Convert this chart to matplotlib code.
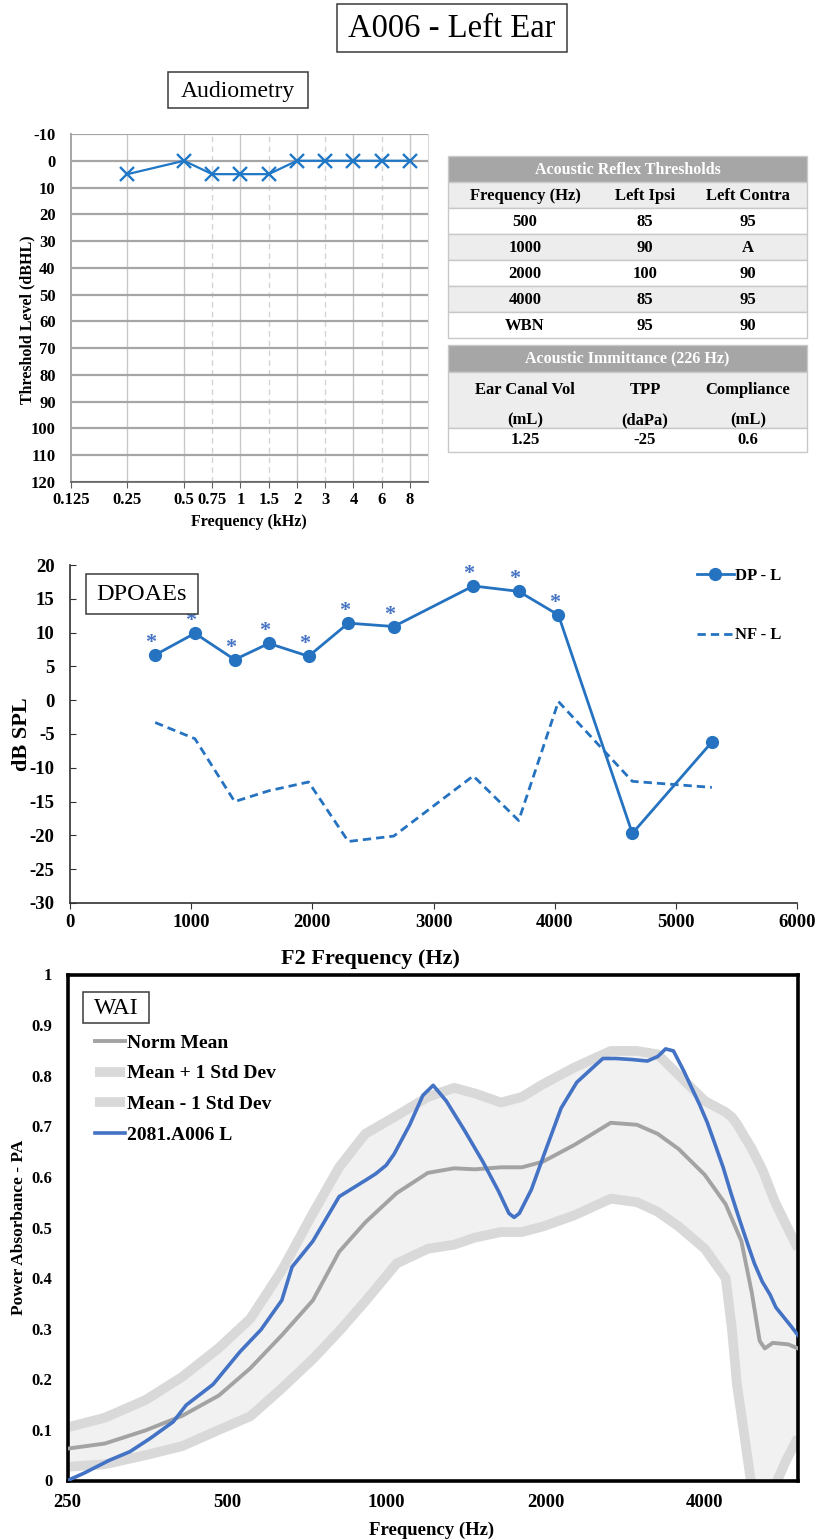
import numpy as np
import matplotlib
matplotlib.use("Agg")
import matplotlib.pyplot as plt
from matplotlib.patches import Rectangle

plt.rcParams['font.family'] = ['Liberation Serif', 'DejaVu Serif']
plt.rcParams['axes.unicode_minus'] = False

# ---------------- data ----------------
title_text = "A006 - Left Ear"

aud_freq_khz = [0.25, 0.5, 0.75, 1, 1.5, 2, 3, 4, 6, 8]
aud_threshold = [5, 0, 5, 5, 5, 0, 0, 0, 0, 0]
aud_tick_khz = [0.125, 0.25, 0.5, 0.75, 1, 1.5, 2, 3, 4, 6, 8]
aud_tick_labels = ["0.125", "0.25", "0.5", "0.75", "1", "1.5", "2", "3", "4", "6", "8"]

art_title = "Acoustic Reflex Thresholds"
art_columns = ["Frequency (Hz)", "Left Ipsi", "Left Contra"]
art_freq = ["500", "1000", "2000", "4000", "WBN"]
art_ipsi = ["85", "90", "100", "85", "95"]
art_contra = ["95", "A", "90", "95", "90"]

imm_title = "Acoustic Immittance (226 Hz)"
imm_columns = ["Ear Canal Vol", "TPP", "Compliance"]
imm_units = ["(mL)", "(daPa)", "(mL)"]
imm_values = ["1.25", "-25", "0.6"]

dp_f2 = [703, 1031, 1359, 1641, 1969, 2297, 2672, 3328, 3703, 4031, 4641, 5297]
dp_level = [6.7, 9.9, 6.0, 8.4, 6.5, 11.4, 10.9, 16.9, 16.1, 12.6, -19.7, -6.2]
nf_level = [-3.3, -5.7, -15.0, -13.4, -12.1, -20.9, -20.1, -11.2, -17.8, -0.2, -12.0, -12.9]
dp_significant = [True, True, True, True, True, True, True, True, True, True, False, False]

wai_band_freq = [250, 294, 351, 412, 483, 554, 635, 727, 815, 913, 1047, 1199, 1344, 1471,
                 1648, 1805, 1977, 2266, 2657, 2978, 3260, 3571, 4000, 4380, 4500, 4600,
                 4750, 4900, 5150, 5430, 5700, 6000]
wai_upper = [0.105, 0.124, 0.159, 0.205, 0.262, 0.320, 0.415, 0.528, 0.619, 0.685, 0.721,
             0.758, 0.776, 0.765, 0.747, 0.758, 0.783, 0.816, 0.849, 0.849, 0.842, 0.801,
             0.750, 0.728, 0.718, 0.705, 0.680, 0.657, 0.612, 0.550, 0.505, 0.458]
wai_lower = [0.027, 0.032, 0.050, 0.068, 0.100, 0.127, 0.182, 0.240, 0.295, 0.354, 0.429,
             0.458, 0.466, 0.480, 0.491, 0.491, 0.502, 0.524, 0.557, 0.550, 0.531, 0.502,
             0.458, 0.400, 0.300, 0.190, 0.090, -0.010, -0.060, -0.010, 0.040, 0.085]
wai_mean_freq = [250, 294, 351, 412, 483, 554, 635, 727, 815, 913, 1047, 1199, 1344, 1471,
                 1648, 1805, 1977, 2266, 2657, 2978, 3260, 3571, 4000, 4380, 4690, 4908,
                 5078, 5193, 5375, 5754, 6000]
wai_mean = [0.063, 0.073, 0.099, 0.128, 0.168, 0.222, 0.287, 0.356, 0.452, 0.510, 0.568,
            0.608, 0.617, 0.615, 0.619, 0.619, 0.630, 0.663, 0.707, 0.703, 0.685, 0.655,
            0.604, 0.546, 0.473, 0.371, 0.276, 0.261, 0.272, 0.269, 0.261]
wai_ear_freq = [250, 268, 300, 328, 358, 396, 419, 471, 529, 580, 635, 664, 727, 815, 913,
                955, 1000, 1035, 1108, 1173, 1227, 1299, 1406, 1523, 1630, 1706, 1745,
                1785, 1881, 2000, 2141, 2292, 2481, 2568, 2718, 2910, 3115, 3260, 3373,
                3490, 3652, 3778, 3910, 4045, 4187, 4332, 4482, 4637, 4800, 4963, 5136,
                5315, 5450, 5820, 6000]
wai_ear = [0.000, 0.014, 0.040, 0.057, 0.083, 0.116, 0.149, 0.190, 0.254, 0.298, 0.356,
           0.422, 0.473, 0.561, 0.593, 0.606, 0.623, 0.645, 0.703, 0.761, 0.781, 0.750,
           0.692, 0.630, 0.572, 0.528, 0.520, 0.528, 0.575, 0.652, 0.736, 0.787, 0.820,
           0.834, 0.834, 0.832, 0.829, 0.838, 0.853, 0.849, 0.809, 0.776, 0.743, 0.707,
           0.663, 0.619, 0.568, 0.520, 0.473, 0.429, 0.393, 0.367, 0.342, 0.305, 0.287]
wai_xticks = [250, 500, 1000, 2000, 4000]
wai_yticks = [0, 0.1, 0.2, 0.3, 0.4, 0.5, 0.6, 0.7, 0.8, 0.9, 1.0]
wai_ytick_labels = ["0", "0.1", "0.2", "0.3", "0.4", "0.5", "0.6", "0.7", "0.8", "0.9", "1"]

# ---------------- styles ----------------
W, H = 816, 1540
AUD_BLUE = '#1f77c6'
DP_BLUE = '#2472c0'
STAR_BLUE = '#4472C4'
EAR_BLUE = '#4472C4'
BOLD = dict(fontweight='bold')

fig = plt.figure(figsize=(W / 100, H / 100), dpi=100)


def frac(x0, y0, x1, y1):
    return [x0 / W, 1 - y1 / H, (x1 - x0) / W, (y1 - y0) / H]


def aud_pos(f):
    return np.round(2 * np.log2(np.asarray(f, dtype=float) / 0.125)) / 2


# ---------------- Audiometry ----------------
ax1 = fig.add_axes(frac(71, 134, 428, 482))
ax1.set_xlim(0, 6.32)
ax1.set_ylim(120, -10)
for y in range(-10, 121, 10):
    ax1.axhline(y, color='#a6a6a6', lw=1.6, zorder=0.5)
for p in aud_pos(aud_tick_khz):
    if p == 0:
        continue
    if float(p).is_integer():
        ax1.axvline(p, color='#c8c8c8', lw=1.0, zorder=0.4)
    else:
        ax1.axvline(p, color='#d4d4d4', lw=1.0, ls=(0, (4, 3)), zorder=0.4)
ax1.plot(aud_pos(aud_freq_khz), aud_threshold, color=AUD_BLUE, lw=1.6,
         marker='x', ms=9.5, mew=1.7, zorder=3)
ax1.set_yticks(range(-10, 121, 10))
ax1.set_yticklabels([str(v) for v in range(-10, 121, 10)], fontsize=12, **BOLD)
ax1.set_xticks(aud_pos(aud_tick_khz))
ax1.set_xticklabels(aud_tick_labels, fontsize=12, **BOLD)
ax1.tick_params(axis='y', length=0, pad=11)
ax1.tick_params(axis='x', direction='out', length=4, color='#606060', pad=3)
ax1.spines['top'].set_visible(False)
ax1.spines['right'].set_color('#d9d9d9')
ax1.spines['left'].set_color('#a6a6a6')
ax1.spines['left'].set_linewidth(1.4)
ax1.spines['bottom'].set_color('#606060')
ax1.spines['bottom'].set_linewidth(1.2)
ax1.set_ylabel("Threshold Level (dBHL)", fontsize=11.5, **BOLD)
ax1.yaxis.set_label_coords((27 - 71) / 357, 0.466)
ax1.yaxis.label.set_va('center')
ax1.set_xlabel("Frequency (kHz)", fontsize=11.5, **BOLD)
ax1.xaxis.set_label_coords((248.5 - 71) / 357, -(521.5 - 482) / 348)
ax1.xaxis.label.set_va('center')

# ---------------- DPOAEs ----------------
ax2 = fig.add_axes(frac(70, 565, 797, 903))
ax2.plot(dp_f2, dp_level, color=DP_BLUE, lw=2.0, marker='o', ms=8.5, label='DP - L', zorder=3)
ax2.plot(dp_f2, nf_level, color=DP_BLUE, lw=2.0, ls=(0, (3, 1.8)), label='NF - L', zorder=2)
for f, v, sig in zip(dp_f2, dp_level, dp_significant):
    if sig:
        ax2.annotate('*', (f, v), xytext=(-3, 5), textcoords='offset points',
                     ha='center', va='baseline', color=STAR_BLUE, fontsize=16, **BOLD)
ax2.set_xlim(0, 6000)
ax2.set_ylim(-30, 20)
ax2.set_xticks(range(0, 6001, 1000))
ax2.set_xticklabels([str(v) for v in range(0, 6001, 1000)], fontsize=13.5, **BOLD)
ax2.set_yticks(range(-30, 21, 5))
ax2.set_yticklabels([str(v) for v in range(-30, 21, 5)], fontsize=13.5, **BOLD)
ax2.tick_params(axis='y', direction='in', length=4, pad=11, color='#303030')
ax2.tick_params(axis='x', direction='out', length=4, pad=4, color='#303030')
for s in ['top', 'right']:
    ax2.spines[s].set_visible(False)
for s in ['left', 'bottom']:
    ax2.spines[s].set_color('#303030')
    ax2.spines[s].set_linewidth(1.2)
ax2.set_ylabel("dB SPL", fontsize=16, **BOLD)
ax2.yaxis.set_label_coords((22 - 70) / 727, 0.5)
ax2.yaxis.label.set_va('center')
ax2.set_xlabel("F2 Frequency (Hz)", fontsize=16, **BOLD)
ax2.xaxis.set_label_coords((370 - 70) / 727, -(959 - 903) / 338)
ax2.xaxis.label.set_va('center')
ax2.legend(loc='upper left', bbox_to_anchor=(697 / W, 1 - 568 / H),
           bbox_transform=fig.transFigure, frameon=False,
           prop=dict(weight='bold', size=12), handlelength=2.2, handletextpad=0.1,
           labelspacing=2.6, borderpad=0, borderaxespad=0)

# ---------------- WAI ----------------
ax3 = fig.add_axes(frac(67.5, 974.5, 798, 1480.5))
ax3.set_xscale('log', base=2)
ax3.fill_between(wai_band_freq, wai_lower, wai_upper, color='#f1f1f1', lw=0, zorder=1)
ax3.plot(wai_band_freq, wai_upper, color='#d9d9d9', lw=7, solid_capstyle='butt',
         label='Mean + 1 Std Dev', zorder=2)
ax3.plot(wai_band_freq, wai_lower, color='#d9d9d9', lw=7, solid_capstyle='butt',
         label='Mean - 1 Std Dev', zorder=2)
ax3.plot(wai_mean_freq, wai_mean, color='#a3a3a3', lw=2.8, label='Norm Mean', zorder=3)
ax3.plot(wai_ear_freq, wai_ear, color=EAR_BLUE, lw=2.6, label='2081.A006 L', zorder=4)
ax3.set_xlim(250, 6000)
ax3.set_ylim(0, 1)
ax3.set_xticks(wai_xticks)
ax3.set_xticklabels([str(v) for v in wai_xticks], fontsize=13.5, **BOLD)
ax3.xaxis.set_minor_locator(matplotlib.ticker.NullLocator())
ax3.set_yticks(wai_yticks)
ax3.set_yticklabels(wai_ytick_labels, fontsize=12, **BOLD)
ax3.tick_params(axis='both', length=0)
ax3.tick_params(axis='y', pad=11)
ax3.tick_params(axis='x', pad=10)
for s in ax3.spines.values():
    s.set_color('black')
    s.set_linewidth(2.6)
ax3.set_ylabel("Power Absorbance - PA", fontsize=12.5, **BOLD)
ax3.yaxis.set_label_coords((19 - 67.5) / 730.5, 0.5)
ax3.yaxis.label.set_va('center')
ax3.set_xlabel("Frequency (Hz)", fontsize=13.5, **BOLD)
ax3.xaxis.set_label_coords((432 - 67.5) / 730.5, -(1530 - 1480.5) / 506)
ax3.xaxis.label.set_va('center')
hs, ls = ax3.get_legend_handles_labels()
order = [ls.index('Norm Mean'), ls.index('Mean + 1 Std Dev'),
         ls.index('Mean - 1 Std Dev'), ls.index('2081.A006 L')]
ax3.legend([hs[i] for i in order], [ls[i] for i in order], loc='upper left',
           bbox_to_anchor=(95 / W, 1 - 1034 / H), bbox_transform=fig.transFigure,
           frameon=False, prop=dict(weight='bold', size=14), handlelength=1.55,
           handletextpad=0.1, labelspacing=0.68, borderpad=0, borderaxespad=0)

# ---------------- overlay: title, boxes, tables ----------------
ov = fig.add_axes([0, 0, 1, 1])
ov.set_zorder(10)
ov.patch.set_alpha(0)
ov.set_xlim(0, W)
ov.set_ylim(H, 0)
ov.axis('off')


def text_box(x0, y0, x1, y1, txt, size):
    ov.add_patch(Rectangle((x0, y0), x1 - x0, y1 - y0, fc='white', ec='#3a3a3a', lw=1.1))
    ov.text((x0 + x1) / 2, (y0 + y1) / 2 + 1, txt, ha='center', va='center', fontsize=size)


text_box(337, 4, 567, 52, title_text, 23.5)
text_box(168, 72, 308, 108, "Audiometry", 17)
text_box(86, 574, 198, 614, "DPOAEs", 17.5)
text_box(83, 992, 149, 1023, "WAI", 17)

TX0, TX1 = 448, 807
COLX = [525, 645, 748]
GRID = '#c8c8c8'
LIGHT = '#ededed'


def cell_row(y0, y1, fc):
    ov.add_patch(Rectangle((TX0, y0), TX1 - TX0, y1 - y0, fc=fc, ec=GRID, lw=1.0))


# Acoustic reflex table
cell_row(156, 182, '#a6a6a6')
ov.text((TX0 + TX1) / 2, 169.5, art_title, ha='center', va='center', color='white',
        fontsize=11.5, **BOLD)
row_h = (337.5 - 182) / 6
cell_row(182, 182 + row_h, LIGHT)
for c, t in zip(COLX, art_columns):
    ov.text(c, 182 + row_h / 2 + 1, t, ha='center', va='center', fontsize=12, **BOLD)
for i, vals in enumerate(zip(art_freq, art_ipsi, art_contra)):
    y0 = 182 + (i + 1) * row_h
    cell_row(y0, y0 + row_h, 'white' if i % 2 == 0 else LIGHT)
    for c, t in zip(COLX, vals):
        ov.text(c, y0 + row_h / 2 + 1, t, ha='center', va='center', fontsize=12, **BOLD)

# Acoustic immittance table
cell_row(344.5, 371.5, '#a6a6a6')
ov.text((TX0 + TX1) / 2, 358.5, imm_title, ha='center', va='center', color='white',
        fontsize=11.5, **BOLD)
cell_row(371.5, 427.7, LIGHT)
for c, t, u in zip(COLX, imm_columns, imm_units):
    ov.text(c, 390, t, ha='center', va='center', fontsize=12, **BOLD)
    ov.text(c, 420, u, ha='center', va='center', fontsize=12, **BOLD)
cell_row(427.7, 452, 'white')
for c, t in zip(COLX, imm_values):
    ov.text(c, 440.5, t, ha='center', va='center', fontsize=12, **BOLD)

fig.savefig('out.png', dpi=100)
